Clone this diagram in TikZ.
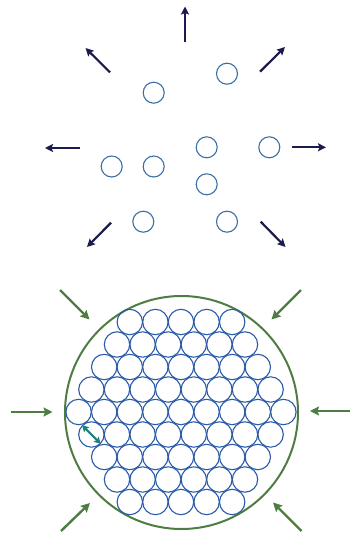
\documentclass[tikz,border=0pt]{standalone}
\usetikzlibrary{arrows.meta}
\definecolor{dotblue}{HTML}{3A6EA5}
\definecolor{cellblue}{HTML}{2A5BA8}
\definecolor{navyarr}{HTML}{1B1B4D}
\definecolor{grn}{HTML}{4E7D43}
\definecolor{tealarr}{HTML}{1F7F80}
\begin{document}
\begin{tikzpicture}[x=1pt,y=-1pt,
  dot/.style={circle,draw=dotblue,line width=1.1pt,minimum size=21pt,inner sep=0pt},
  cell/.style={circle,draw=cellblue,line width=1.1pt,minimum size=25.4pt,inner sep=0pt},
  outarr/.style={draw=navyarr,line width=2.2pt,-{Stealth[length=8pt,width=8pt,inset=1.5pt]}},
  inarr/.style={draw=grn,line width=2.4pt,-{Stealth[length=9pt,width=9pt,inset=1.5pt]}},
  gap/.style={draw=tealarr,line width=2.2pt,{Stealth[length=6.5pt,width=7pt,inset=1pt]}-{Stealth[length=6.5pt,width=7pt,inset=1pt]}}]
\useasboundingbox (0,0) rectangle (352,533);
% top: dispersed particles
\node[dot] (d1) at (153.7,92.7) {};
\node[dot] (d2) at (227,73.7) {};
\node[dot] (d3) at (206.7,147.3) {};
\node[dot] (d4) at (269.3,147.3) {};
\node[dot] (d5) at (111.7,166.5) {};
\node[dot] (d6) at (153.7,166.5) {};
\node[dot] (d7) at (206.7,184.3) {};
\node[dot] (d8) at (143.3,221.7) {};
\node[dot] (d9) at (227,221.7) {};
% outward arrows
\coordinate (u0) at (185,41.7);   \coordinate (u1) at (185,6.5);
\coordinate (ul0) at (110,72.3);  \coordinate (ul1) at (85.5,48);
\coordinate (ur0) at (260,71.7);  \coordinate (ur1) at (285,47);
\coordinate (l0) at (80,148);     \coordinate (l1) at (45,148);
\coordinate (r0) at (291.7,147.3);\coordinate (r1) at (326,147.3);
\coordinate (dl0) at (111,222.7); \coordinate (dl1) at (87,247);
\coordinate (dr0) at (260.7,221.7);\coordinate (dr1) at (285.5,247);
\foreach \a in {u,ul,ur,l,r,dl,dr} \draw[outarr] (\a0) -- (\a1);
% bottom: packed particles
\node[circle,draw=grn,line width=2pt,minimum size=233pt,inner sep=0pt] (big) at (181.5,412.5) {};
\foreach \i in {-4,...,4} {
  \pgfmathtruncatemacro\nn{9-abs(\i)}
  \pgfmathtruncatemacro\mm{\nn-1}
  \foreach \j in {0,...,\mm} {
    \node[cell] (c\i-\j) at ({181+(\j-\mm/2)*25.6},{412+22.5*\i}) {};
  }
}
\draw[gap] (c1-0.north west) -- (c1-0.south east);
% inward arrows
\coordinate (a0) at (60,290);    \coordinate (a1) at (89.5,319.5);
\coordinate (b0) at (301,290);   \coordinate (b1) at (271.5,319.5);
\coordinate (e0) at (10.5,412);  \coordinate (e1) at (52.5,412);
\coordinate (f0) at (350,411);   \coordinate (f1) at (310,411);
\coordinate (g0) at (61,531);    \coordinate (g1) at (90,503);
\coordinate (h0) at (301.5,531); \coordinate (h1) at (273,502.5);
\foreach \a in {a,b,e,f,g,h} \draw[inarr] (\a0) -- (\a1);
\end{tikzpicture}
\end{document}
